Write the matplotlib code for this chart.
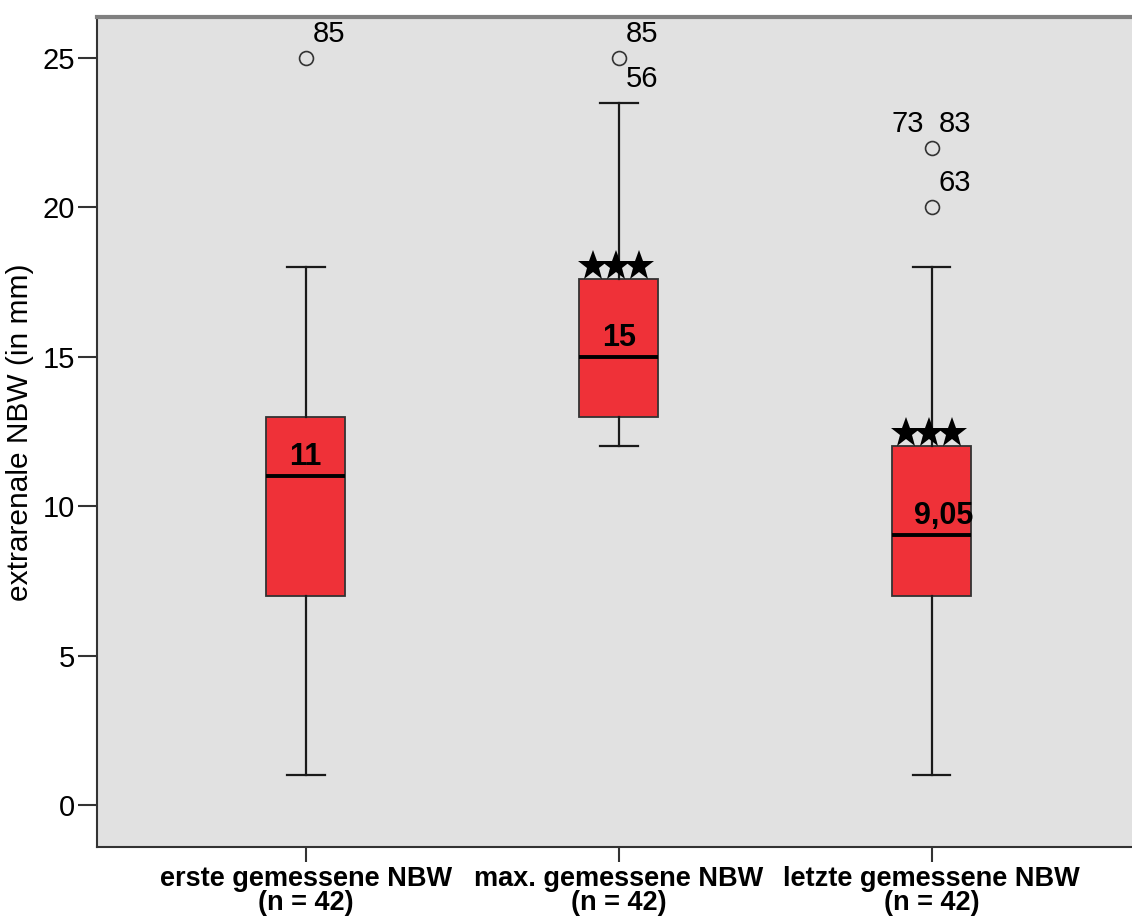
import matplotlib
matplotlib.use('Agg')
import matplotlib.pyplot as plt
from matplotlib.transforms import offset_copy

plt.rcParams['font.family'] = ['Liberation Sans', 'DejaVu Sans']

# data
categories = ['erste gemessene NBW\n(n = 42)',
              'max. gemessene NBW\n(n = 42)',
              'letzte gemessene NBW\n(n = 42)']
q1 = [7, 13, 7]
median = [11, 15, 9.05]
q3 = [13, 17.6, 12]
whislo = [1, 12, 1]
whishi = [18, 23.5, 18]
fliers = [[25], [25], [22, 20]]
median_labels = ['11', '15', '9,05']
# outlier case labels: (box, value, label, side)
case_labels = [(1, 25, '85', 'r'), (2, 25, '85', 'r'), (2, 23.5, '56', 'r'),
               (3, 22, '73', 'l'), (3, 22, '83', 'r'), (3, 20, '63', 'r')]
star_boxes = [2, 3]

fig = plt.figure(figsize=(11.32, 9.19), dpi=100)
ax = fig.add_axes([97/1132, 1 - 847/919, 1 - 97/1132, (847 - 17)/919])
ax.set_facecolor('#e1e1e1')

stats = []
for i in range(3):
    stats.append(dict(q1=q1[i], med=median[i], q3=q3[i], whislo=whislo[i],
                      whishi=whishi[i], fliers=fliers[i]))
ax.bxp(stats, positions=[1, 2, 3], widths=0.252, patch_artist=True,
       boxprops=dict(facecolor='#ef3138', edgecolor='#333333', linewidth=1.3),
       medianprops=dict(color='black', linewidth=2.8),
       whiskerprops=dict(color='#1a1a1a', linewidth=1.6),
       capprops=dict(color='#1a1a1a', linewidth=1.6),
       capwidths=0.12,
       flierprops=dict(marker='o', markersize=10, markerfacecolor='none',
                       markeredgecolor='#333333', markeredgewidth=1.2))

ax.set_xlim(0.333, 3.64)
ax.set_ylim(-1.4, 26.37)
ax.set_yticks([0, 5, 10, 15, 20, 25])
ax.tick_params(axis='y', labelsize=21, length=14, width=1.5, color='#333333', pad=2)
ax.tick_params(axis='x', length=11, width=1.5, color='#333333', pad=3)
ax.set_xticks([1, 2, 3])
ax.set_xticklabels(categories, fontsize=19.5, fontweight='bold', linespacing=0.9)
for s in ax.spines.values():
    s.set_color('#333333')
    s.set_linewidth(1.5)
ax.spines['right'].set_visible(False)
ax.spines['top'].set_color('#808080')
ax.spines['top'].set_linewidth(3)

ax.set_ylabel('extrarenale NBW (in mm)', fontsize=21.5, labelpad=6)

for i, lab in enumerate(median_labels):
    dx = 12 if lab == '9,05' else 0
    ax.annotate(lab, (i + 1, median[i]), xytext=(dx, 19), textcoords='offset pixels',
                ha='center', va='center', fontsize=22, fontweight='bold')

for box, val, lab, side in case_labels:
    if side == 'r':
        ax.annotate(lab, (box, val), xytext=(7, 24), textcoords='offset pixels',
                    ha='left', va='center', fontsize=21)
    else:
        ax.annotate(lab, (box, val), xytext=(-8, 24), textcoords='offset pixels',
                    ha='right', va='center', fontsize=21)

# significance stars sitting on top of the boxes
for b in star_boxes:
    for dx in (-26, -3, 20):
        tr = offset_copy(ax.transData, fig=fig, x=dx, y=13, units='dots')
        ax.plot([b], [q3[b - 1]], marker='*', markersize=23, color='black',
                markeredgewidth=0, transform=tr, clip_on=False)

fig.savefig('out.png', dpi=100, facecolor='white')
